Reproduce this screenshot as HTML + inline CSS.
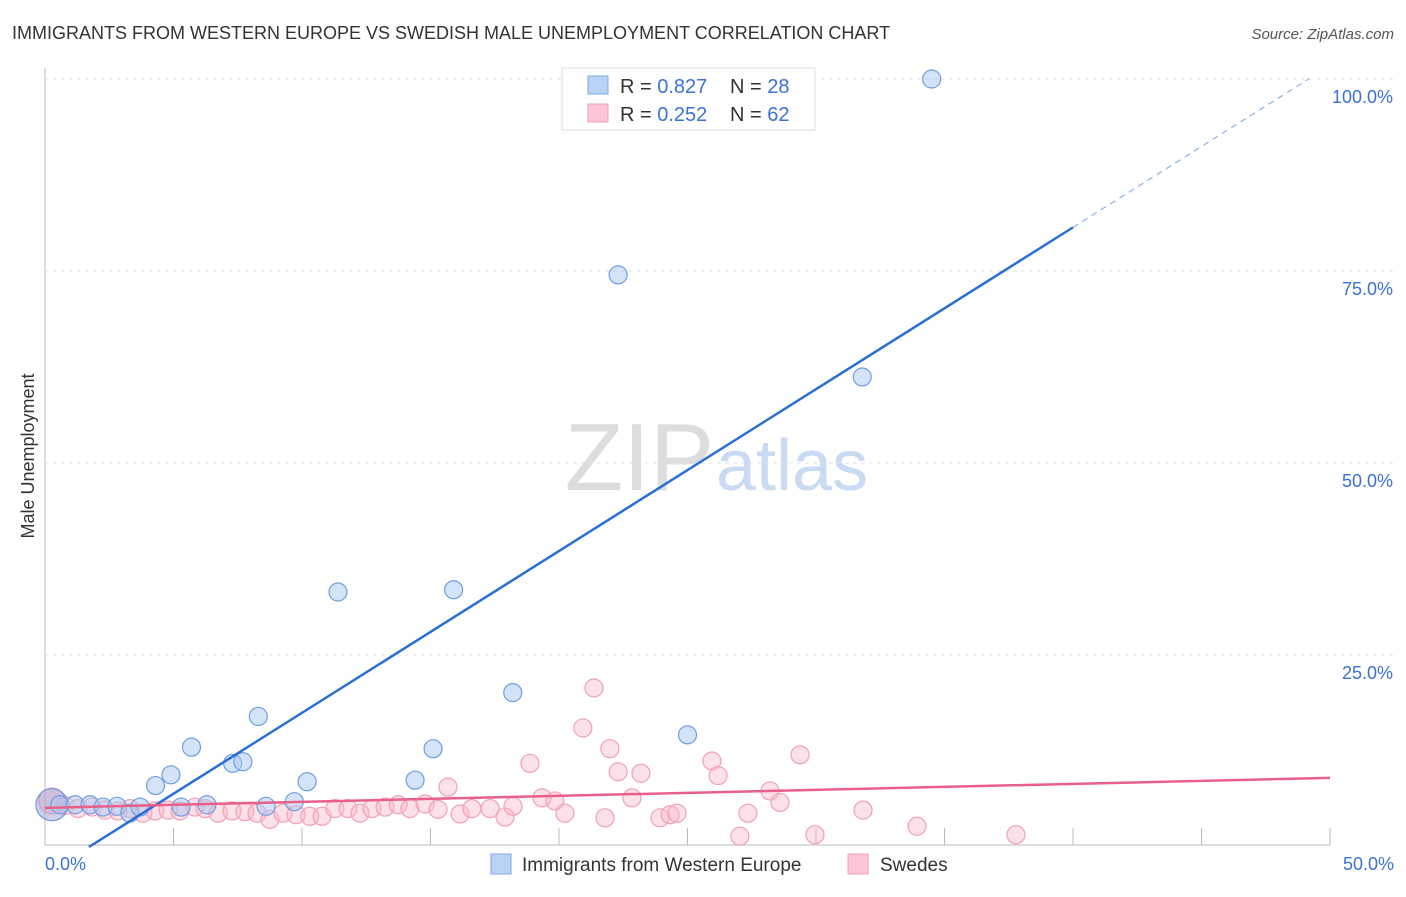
<!DOCTYPE html>
<html><head><meta charset="utf-8"><style>
body{margin:0;background:#fff;font-family:"Liberation Sans",sans-serif;}
svg text{font-family:"Liberation Sans",sans-serif;}
</style></head><body>
<svg id="chart" width="1406" height="892" viewBox="0 0 1406 892">
<text x="12" y="39" font-size="18" fill="#333">IMMIGRANTS FROM WESTERN EUROPE VS SWEDISH MALE UNEMPLOYMENT CORRELATION CHART</text>
<text x="1394" y="39" font-size="15" fill="#555" text-anchor="end" font-style="italic">Source: ZipAtlas.com</text>
<text x="34" y="456" font-size="18" fill="#333" text-anchor="middle" transform="rotate(-90 34 456)">Male Unemployment</text>
<text x="714" y="490" font-size="96" fill="#ddd" text-anchor="end" font-family="Liberation Serif">ZIP</text>
<text x="716" y="490" font-size="72" fill="#c9daf3">atlas</text>
<g id="grid"></g><g id="pts"></g><g id="lines"></g>
<g>
<rect x="562" y="68" width="253" height="62" fill="#fff" stroke="#ddd"/>
<rect x="588" y="76" width="20" height="18" fill="#b8d3f5" stroke="#7fa8e0"/>
<text x="620" y="93" font-size="20" fill="#333">R = <tspan fill="#3a72d6">0.827</tspan></text>
<text x="730" y="93" font-size="20" fill="#333">N = <tspan fill="#3a72d6">28</tspan></text>
<rect x="588" y="104" width="20" height="18" fill="#fcc6d6" stroke="#f0a0b8"/>
<text x="620" y="121" font-size="20" fill="#333">R = <tspan fill="#3a72d6">0.252</tspan></text>
<text x="730" y="121" font-size="20" fill="#333">N = <tspan fill="#3a72d6">62</tspan></text>
</g>
<g>
<rect x="491" y="854" width="20" height="20" fill="#b8d3f5" stroke="#7fa8e0"/>
<text x="522" y="871" font-size="19" fill="#333">Immigrants from Western Europe</text>
<rect x="848" y="854" width="20" height="20" fill="#fcc6d6" stroke="#f0a0b8"/>
<text x="880" y="871" font-size="19" fill="#333">Swedes</text>
</g>
</svg>
<script>
const blueX=[0.27,0.58,1.17,1.75,2.26,2.8,3.3,3.7,4.3,4.9,5.3,5.7,6.3,7.3,7.7,8.3,8.6,9.7,10.2,11.4,14.4,15.1,15.9,18.2,22.3,25.0,31.8,34.5];
const blueY=[5.5,5.5,5.5,5.5,5.2,5.3,4.4,5.2,8.0,9.4,5.2,13.0,5.5,10.9,11.1,17.0,5.3,5.9,8.5,33.2,8.7,12.8,33.5,20.1,74.5,14.6,61.2,100];
const pinkX=[0.27,0.78,1.28,1.83,2.33,2.84,3.31,3.81,4.28,4.79,5.25,5.84,6.23,6.74,7.28,7.78,8.25,8.75,9.26,9.77,10.3,10.78,11.28,11.79,12.26,12.72,13.23,13.74,14.2,14.79,15.29,15.68,16.15,16.61,17.32,17.9,18.21,18.87,19.34,19.84,20.23,20.93,21.36,21.79,21.98,22.3,22.84,23.19,23.93,24.32,24.59,25.95,26.19,27.04,27.35,28.21,28.6,29.38,29.96,31.83,33.93,37.78];
const pinkY=[6.0,5.4,5.0,5.2,4.8,4.7,5.0,4.4,4.7,4.8,4.7,5.2,5.0,4.4,4.7,4.6,4.4,3.6,4.4,4.2,4.0,4.0,5.0,5.0,4.4,5.0,5.2,5.5,5.0,5.6,4.9,7.8,4.3,5.0,5.0,3.9,5.3,10.9,6.4,6.0,4.4,15.5,20.7,3.8,12.8,9.8,6.4,9.6,3.8,4.2,4.4,11.2,9.3,1.4,4.4,7.3,5.8,12.0,1.6,4.8,2.7,1.6];
const blueLine={a:-3.6,b:2.107,solidEnd:40.0,dashEnd:49.2};
const pinkLine={a:5.1,b:0.078};
const xTicks=[0,50], yTicks=[25,50,75,100];
const X=v=>45+v*25.7, Y=v=>847-v*7.68;
const NS="http://www.w3.org/2000/svg";
function mk(tag,attrs,parent){const e=document.createElementNS(NS,tag);for(const k in attrs)e.setAttribute(k,attrs[k]);parent.appendChild(e);return e;}
const grid=document.getElementById('grid');
yTicks.forEach(t=>{
 const l=mk('line',{x1:45,x2:1394,y1:Y(t),y2:Y(t),stroke:'#e0e0e0','stroke-dasharray':'4 4'},grid);
 
 
 const tx=mk('text',{x:1393,y:Y(t)+24,'font-size':18,fill:'#3a72d6','text-anchor':'end'},grid);
 tx.textContent=t.toFixed(1)+'%';
 
 
});
mk('line',{x1:45,x2:45,y1:68,y2:845,stroke:'#bbb'},grid);
mk('line',{x1:45,x2:1330,y1:845,y2:845,stroke:'#bbb'},grid);
for(let i=1;i<=10;i++){const t=mk('line',{x1:X(i*5),x2:X(i*5),y1:828,y2:845,stroke:'#bbb'},grid);}
xTicks.forEach((t,i)=>{const tx=mk('text',{x:i?1394:45,y:870,'font-size':18,fill:'#3a72d6','text-anchor':i?'end':'start'},grid);tx.textContent=t.toFixed(1)+'%';
 
 });
const pts=document.getElementById('pts');
pinkX.forEach((x,i)=>{const c=mk('circle',{cx:X(x),cy:Y(pinkY[i]),r:i==0?13:9,fill:'rgba(250,180,200,0.4)',stroke:'#f0a0b8','stroke-width':1.2},pts);
 
 });
blueX.forEach((x,i)=>{const c=mk('circle',{cx:X(x),cy:Y(blueY[i]),r:i==0?16:9,fill:i==0?'rgba(160,160,210,0.5)':'rgba(170,200,240,0.5)',stroke:'#6f9ee0','stroke-width':1.2},pts);
 
 });
const ln=document.getElementById('lines');
const x0=(0-blueLine.a)/blueLine.b;
const b1=mk('line',{x1:X(x0),y1:Y(0),x2:X(blueLine.solidEnd),y2:Y(blueLine.a+blueLine.b*blueLine.solidEnd),stroke:'#2a6fd6','stroke-width':2.5},ln);


const b2=mk('line',{x1:X(blueLine.solidEnd),y1:Y(blueLine.a+blueLine.b*blueLine.solidEnd),x2:X(blueLine.dashEnd),y2:Y(blueLine.a+blueLine.b*blueLine.dashEnd),stroke:'#8fb0e0','stroke-width':1.2,'stroke-dasharray':'6 5'},ln);


const p1=mk('line',{x1:X(0),y1:Y(pinkLine.a),x2:X(50),y2:Y(pinkLine.a+pinkLine.b*50),stroke:'#e8608a','stroke-width':2.5},ln);


</script>
</body></html>
